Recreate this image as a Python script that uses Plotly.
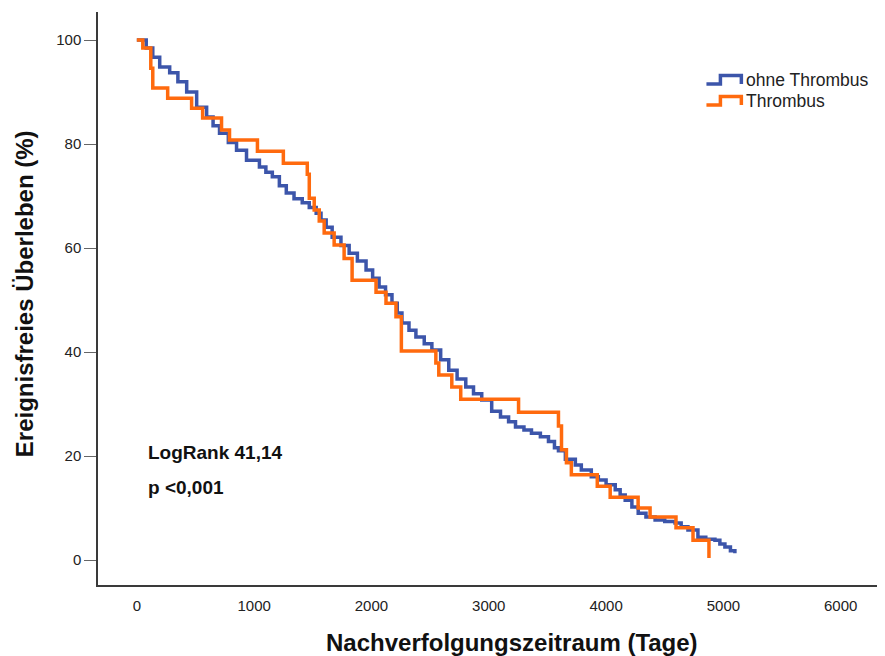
import plotly.graph_objects as go

# ---------------- data ----------------
blue_name = "ohne Thrombus"
blue_t = [0, 25, 80, 136, 195, 280, 350, 425, 510, 595, 650, 705, 780, 850, 935,
          1045, 1100, 1155, 1215, 1274, 1340, 1410, 1470, 1529, 1570, 1614, 1665,
          1740, 1810, 1880, 1954, 2010, 2065, 2120, 2175, 2220, 2260, 2320, 2379,
          2450, 2515, 2590, 2659, 2730, 2804, 2870, 2940, 3025, 3100, 3169, 3228,
          3300, 3364, 3440, 3509, 3560, 3594, 3653, 3738, 3789, 3874, 3934, 4000,
          4078, 4120, 4163, 4220, 4274, 4340, 4418, 4500, 4588, 4640, 4698, 4783,
          4850, 4928, 4970, 5013, 5060, 5098]
blue_s = [100, 100, 98.5, 96.7, 94.8, 93.7, 92.0, 90.0, 87.1, 85.2, 83.5, 82.1, 80.3,
          78.8, 76.9, 75.6, 74.6, 73.7, 72.0, 70.6, 69.5, 68.7, 67.8, 66.7, 65.4, 64.0,
          62.1, 60.5, 59.0, 57.5, 55.8, 54.2, 52.5, 51.0, 49.4, 47.5, 45.6, 44.2, 42.9,
          41.6, 40.4, 38.5, 36.5, 34.8, 33.3, 32.0, 30.8, 28.6, 27.5, 26.6, 25.6, 25.0,
          24.4, 23.7, 22.8, 21.6, 21.0, 19.4, 18.3, 17.3, 16.0, 15.4, 14.5, 13.5, 12.5,
          11.5, 10.2, 9.0, 8.3, 7.7, 7.4, 7.1, 6.4, 5.8, 4.4, 4.0, 3.8, 3.1, 2.5, 1.8, 1.3]

orange_name = "Thrombus"
orange_t = [0, 51, 119, 136, 263, 467, 561, 722, 790, 1028, 1249, 1453, 1470, 1512,
            1555, 1597, 1682, 1767, 1835, 2039, 2124, 2209, 2255, 2549, 2574, 2685,
            2761, 3254, 3594, 3620, 3662, 3704, 3925, 4035, 4273, 4375, 4596, 4741, 4877]
orange_s = [100, 98.5, 94.6, 90.8, 88.8, 86.9, 85.0, 82.7, 80.8, 78.6, 76.3, 74.2, 69.6,
            67.3, 65.2, 62.9, 60.6, 58.0, 53.8, 51.5, 49.4, 46.8, 40.2, 37.9, 35.6, 33.3,
            30.9, 28.4, 25.8, 21.2, 18.7, 16.4, 14.2, 12.1, 10.0, 8.3, 6.2, 3.8, 0.4]

x_ticks = [0, 1000, 2000, 3000, 4000, 5000, 6000]
y_ticks = [0, 20, 40, 60, 80, 100]

x_title = "Nachverfolgungszeitraum (Tage)"
y_title = "Ereignisfreies Überleben (%)"
stat_lines = ["LogRank 41,14", "p <0,001"]

# ---------------- styling ----------------
BLUE = "#3c55aa"
ORANGE = "#ff6a0e"
OFF = 8                      # page body margin of the html page
W, H = 885 - OFF, 656 - OFF
L, T = 98 - OFF, 12 - OFF    # plot area left / top in figure pixels
R = W - (882 - OFF)
B = H - (585 - OFF)
PW, PH = W - L - R, H - T - B
FONT = "Liberation Sans, Arial, sans-serif"


def px(x, y):
    """reference-screenshot pixel position -> paper coords"""
    return (x - OFF - L) / PW, (H - B - (y - OFF)) / PH


fig = go.Figure()
fig.add_trace(go.Scatter(x=blue_t, y=blue_s, mode="lines", name=blue_name,
                         line=dict(color=BLUE, width=3.5, shape="hv"),
                         showlegend=False))
fig.add_trace(go.Scatter(x=orange_t, y=orange_s, mode="lines", name=orange_name,
                         line=dict(color=ORANGE, width=3.5, shape="hv"),
                         showlegend=False))

# manual legend with step-shaped symbols
shapes = []
for col, yoff in [(BLUE, 0), (ORANGE, 21)]:
    pts = [(708, 84 + yoff), (722, 84 + yoff), (722, 75.5 + yoff),
           (743, 75.5 + yoff), (743, 84 + yoff)]
    pp = [px(*p) for p in pts]
    path = "M " + " L ".join(f"{a:.5f},{b:.5f}" for a, b in pp)
    shapes.append(dict(type="path", xref="paper", yref="paper", path=path,
                       line=dict(color=col, width=3.5)))

annotations = []
for name, yc in [(blue_name, 80.5), (orange_name, 101.5)]:
    ax, ay = px(746, yc)
    annotations.append(dict(x=ax, y=ay, xref="paper", yref="paper", text=name,
                            showarrow=False, xanchor="left", yanchor="middle",
                            font=dict(family=FONT, size=17.5, color="#222")))

for txt, yc in zip(stat_lines, [452, 487]):
    ax, ay = px(146, yc)
    annotations.append(dict(x=ax, y=ay, xref="paper", yref="paper",
                            text=f"<b>{txt}</b>", showarrow=False,
                            xanchor="left", yanchor="middle",
                            font=dict(family=FONT, size=19, color="#111")))

ax, ay = px(513, 642)
annotations.append(dict(x=ax, y=ay, xref="paper", yref="paper",
                        text=f"<b>{x_title}</b>", showarrow=False,
                        xanchor="center", yanchor="middle",
                        font=dict(family=FONT, size=24, color="#111")))
ax, ay = px(24, 294)
annotations.append(dict(x=ax, y=ay, xref="paper", yref="paper",
                        text=f"<b>{y_title}</b>", showarrow=False, textangle=-90,
                        xanchor="center", yanchor="middle",
                        font=dict(family=FONT, size=24, color="#111")))

fig.update_layout(
    width=W, height=H,
    margin=dict(l=L, r=R, t=T, b=B),
    paper_bgcolor="white", plot_bgcolor="white",
    shapes=shapes, annotations=annotations,
    xaxis=dict(range=[-331, 6335], tickvals=x_ticks,
               ticktext=[str(v) for v in x_ticks],
               showgrid=False, zeroline=False,
               showline=True, linecolor="#3a3a3a", linewidth=1.5,
               ticks="outside", ticklen=6, tickcolor="rgba(0,0,0,0)",
               tickfont=dict(family=FONT, size=15, color="#222")),
    yaxis=dict(range=[-4.8, 105.4], tickvals=y_ticks,
               ticktext=[str(v) for v in y_ticks],
               showgrid=False, zeroline=False,
               showline=True, mirror=True, linecolor="#3a3a3a", linewidth=1.5,
               ticks="outside", ticklen=12, tickcolor="#666", tickwidth=1,
               tickfont=dict(family=FONT, size=15, color="#222")),
)

fig.write_html("out.html")
